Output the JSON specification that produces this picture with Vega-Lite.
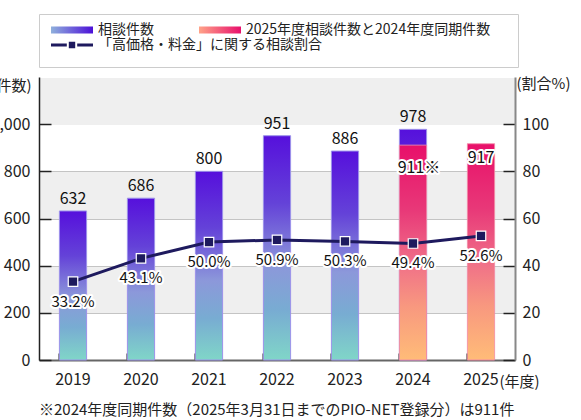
{
  "$schema": "https://vega.github.io/schema/vega-lite/v6.json",
  "width": 476,
  "height": 283,
  "autosize": {"type": "none"},
  "padding": {"left": 39, "top": 77, "right": 66, "bottom": 60},
  "background": "white",
  "config": {
    "font": "Noto Sans CJK JP",
    "view": {"stroke": null},
    "axis": {"labelFontSize": 16, "labelColor": "#222", "titleFontWeight": "normal", "titleFontSize": 14, "titleColor": "#222", "labelOverlap": false},
    "legend": {"symbolSize": 64, "symbolOffset": 17, "labelOffset": 19, "labelFontSize": 14, "labelColor": "#222", "labelLimit": 400, "padding": 9},
    "text": {"font": "Noto Sans CJK JP"}
  },
  "title": {
    "text": "※2024年度同期件数（2025年3月31日までのPIO-NET登録分）は911件",
    "orient": "bottom",
    "anchor": "start",
    "frame": "group",
    "fontSize": 15,
    "fontWeight": "normal",
    "color": "#222",
    "offset": 14
  },
  "datasets": {
    "counts": [
      {"year": "2019", "series": "相談件数", "count": 632, "label": "632"},
      {"year": "2020", "series": "相談件数", "count": 686, "label": "686"},
      {"year": "2021", "series": "相談件数", "count": 800, "label": "800"},
      {"year": "2022", "series": "相談件数", "count": 951, "label": "951"},
      {"year": "2023", "series": "相談件数", "count": 886, "label": "886"},
      {"year": "2024", "series": "相談件数", "count": 978, "label": "978"},
      {"year": "2024", "series": "2025年度相談件数と2024年度同期件数", "count": 911, "label": "911※"},
      {"year": "2025", "series": "2025年度相談件数と2024年度同期件数", "count": 917, "label": "917"}
    ],
    "ratio": [
      {"year": "2019", "series": "「高価格・料金」に関する相談割合", "pct": 33.2, "label": "33.2%"},
      {"year": "2020", "series": "「高価格・料金」に関する相談割合", "pct": 43.1, "label": "43.1%"},
      {"year": "2021", "series": "「高価格・料金」に関する相談割合", "pct": 50.0, "label": "50.0%"},
      {"year": "2022", "series": "「高価格・料金」に関する相談割合", "pct": 50.9, "label": "50.9%"},
      {"year": "2023", "series": "「高価格・料金」に関する相談割合", "pct": 50.3, "label": "50.3%"},
      {"year": "2024", "series": "「高価格・料金」に関する相談割合", "pct": 49.4, "label": "49.4%"},
      {"year": "2025", "series": "「高価格・料金」に関する相談割合", "pct": 52.6, "label": "52.6%"}
    ]
  },
  "layer": [
    {
      "data": {"name": "counts"},
      "layer": [
        {
          "transform": [{"filter": "datum.series === '相談件数'"}],
          "mark": {
            "type": "bar",
            "strokeWidth": 1,
            "fill": {"gradient": "linear", "x1": 0, "y1": 1, "x2": 0, "y2": 0,
              "stops": [
                {"offset": 0, "color": "#80d6c8"},
                {"offset": 0.22, "color": "#78acd2"},
                {"offset": 0.42, "color": "#8c98da"},
                {"offset": 0.7, "color": "#6442d8"},
                {"offset": 1, "color": "#5610dc"}
              ]}
          },
          "encoding": {
            "x": {
              "field": "year", "type": "ordinal",
              "scale": {"paddingInner": 0.6, "paddingOuter": 0.3},
              "axis": {
                "title": "(年度)", "labelAngle": 0, "bandPosition": 0,
                "tickSize": -7, "tickWidth": 2, "tickColor": "#222",
                "domainColor": "#666", "domainWidth": 2, "labelPadding": 18,
                "titleX": 460, "titleY": 21, "titleAlign": "left", "titleBaseline": "middle",
                "titleFontSize": 15, "labelFontSize": 16
              }
            },
            "y": {
              "field": "count", "type": "quantitative",
              "scale": {"domain": [0, 1200], "nice": false},
              "axis": {
                "values": [300, 700, 1100, 0, 200, 400, 600, 800, 1000],
                "tickCount": 100,
                "labelExpr": "(datum.value == 300 || datum.value == 700 || datum.value == 1100) ? '' : format(datum.value, ',')",
                "grid": true,
                "gridColor": {"condition": {"test": "datum.value == 300 || datum.value == 700 || datum.value == 1100", "value": "#efefef"}, "value": "#c4c4c4"},
                "gridWidth": {"condition": {"test": "datum.value == 300 || datum.value == 700 || datum.value == 1100", "value": 47}, "value": 1},
                "tickOpacity": {"condition": {"test": "datum.value == 300 || datum.value == 700 || datum.value == 1100", "value": 0}, "value": 1},
                "tickSize": -12, "tickColor": "#222", "tickWidth": 1.5,
                "domainColor": "#222", "domainWidth": 1.5,
                "labelPadding": 21,
                "title": "(件数)", "titleAngle": 0, "titleAlign": "right", "titleBaseline": "middle",
                "titleX": -8, "titleY": 8, "titleFontSize": 15, "labelFontSize": 16
              }
            },
            "stroke": {
              "field": "series", "type": "nominal",
              "scale": {"range": ["#9c92ea"]},
              "legend": {
                "title": null,
                "orient": "none",
                "legendX": 0,
                "legendY": -63,
                "strokeColor": "#cccccc",
                "encoding": {
                  "symbols": {
                    "shape": {"value": "M-5.25,-0.875H5.25V0.875H-5.25Z M109,7L109.01,7"},
                    "fill": {"value": {"gradient": "linear", "x1": 0, "y1": 0, "x2": 0.092, "y2": 0, "stops": [{"offset": 0, "color": "#8fb0dc"}, {"offset": 1, "color": "#4c10d8"}]}},
                    "strokeWidth": {"value": 0},
                    "opacity": {"value": 1}
                  }
                }
              }
            }
          }
        },
        {
          "transform": [{"filter": "datum.series !== '相談件数'"}],
          "mark": {
            "type": "bar",
            "strokeWidth": 1,
            "stroke": "#f28aa6",
            "fill": {"gradient": "linear", "x1": 0, "y1": 1, "x2": 0, "y2": 0,
              "stops": [
                {"offset": 0, "color": "#ffbc78"},
                {"offset": 0.25, "color": "#f8987f"},
                {"offset": 0.45, "color": "#f07088"},
                {"offset": 0.7, "color": "#e83878"},
                {"offset": 1, "color": "#e8106a"}
              ]}
          },
          "encoding": {
            "x": {"field": "year", "type": "ordinal"},
            "y": {"field": "count", "type": "quantitative"},
            "strokeDash": {
              "field": "series", "type": "nominal",
              "scale": {"range": [[1, 0]]},
              "legend": {
                "title": null,
                "orient": "none",
                "legendX": 148,
                "legendY": -63,
                "encoding": {
                  "symbols": {
                    "shape": {"value": "M-5.25,-0.875H5.25V0.875H-5.25Z"},
                    "fill": {"value": {"gradient": "linear", "x1": 0, "y1": 0, "x2": 1, "y2": 0, "stops": [{"offset": 0, "color": "#ffa388"}, {"offset": 1, "color": "#e8106c"}]}},
                    "strokeWidth": {"value": 0},
                    "opacity": {"value": 1}
                  }
                }
              }
            }
          }
        },
        {
          "transform": [{"filter": "datum.series === '相談件数'"}],
          "mark": {"type": "text", "baseline": "bottom", "dy": -4, "fontSize": 16, "color": "#111"},
          "encoding": {
            "x": {"field": "year", "type": "ordinal"},
            "y": {"field": "count", "type": "quantitative"},
            "text": {"field": "label"}
          }
        },
        {
          "transform": [{"filter": "datum.series !== '相談件数' && datum.year === '2025'"}],
          "mark": {"type": "text", "baseline": "top", "dy": 6, "fontSize": 16, "color": "white", "stroke": "white", "strokeWidth": 4, "strokeJoin": "round"},
          "encoding": {
            "x": {"field": "year", "type": "ordinal"},
            "y": {"field": "count", "type": "quantitative"},
            "text": {"field": "label"}
          }
        },
        {
          "transform": [{"filter": "datum.series !== '相談件数' && datum.year === '2025'"}],
          "mark": {"type": "text", "baseline": "top", "dy": 6, "fontSize": 16, "color": "#111"},
          "encoding": {
            "x": {"field": "year", "type": "ordinal"},
            "y": {"field": "count", "type": "quantitative"},
            "text": {"field": "label"}
          }
        },
        {
          "transform": [{"filter": "datum.series !== '相談件数' && datum.year === '2024'"}],
          "mark": {"type": "text", "baseline": "top", "dy": 15, "dx": 6, "fontSize": 16, "color": "white", "stroke": "white", "strokeWidth": 4, "strokeJoin": "round"},
          "encoding": {
            "x": {"field": "year", "type": "ordinal"},
            "y": {"field": "count", "type": "quantitative"},
            "text": {"field": "label"}
          }
        },
        {
          "transform": [{"filter": "datum.series !== '相談件数' && datum.year === '2024'"}],
          "mark": {"type": "text", "baseline": "top", "dy": 15, "dx": 6, "fontSize": 16, "color": "#111"},
          "encoding": {
            "x": {"field": "year", "type": "ordinal"},
            "y": {"field": "count", "type": "quantitative"},
            "text": {"field": "label"}
          }
        }
      ]
    },
    {
      "data": {"name": "ratio"},
      "layer": [
        {
          "mark": {"type": "line", "strokeWidth": 3, "color": "#1e1a5e"},
          "encoding": {
            "x": {"field": "year", "type": "ordinal"},
            "y": {
              "field": "pct", "type": "quantitative",
              "scale": {"domain": [0, 120], "nice": false},
              "axis": {
                "orient": "right",
                "values": [0, 20, 40, 60, 80, 100],
                "tickCount": 100,
                "grid": false,
                "tickSize": -12, "tickColor": "#222", "tickWidth": 1.5,
                "domainColor": "#888", "domainWidth": 2,
                "labelPadding": 19,
                "title": "(割合%)", "titleAngle": 0, "titleAlign": "left", "titleBaseline": "middle",
                "titleX": 1, "titleY": 6, "titleFontSize": 15, "labelFontSize": 16
              }
            }
          }
        },
        {
          "mark": {"type": "point", "shape": "square", "size": 90, "filled": true, "stroke": "white", "strokeWidth": 1.2, "opacity": 1},
          "encoding": {
            "x": {"field": "year", "type": "ordinal"},
            "y": {"field": "pct", "type": "quantitative"},
            "fill": {
              "field": "series", "type": "nominal",
              "scale": {"range": ["#1e1a5e"]},
              "legend": {
                "title": null,
                "orient": "none",
                "legendX": 0,
                "legendY": -48,
                "encoding": {
                  "symbols": {
                    "shape": {"value": "M-5.25,-0.4H-1.3V0.4H-5.25Z M-0.8,-0.8H0.8V0.8H-0.8Z M1.3,-0.4H5.25V0.4H1.3Z"},
                    "fill": {"value": "#1e1a5e"},
                    "strokeWidth": {"value": 0},
                    "opacity": {"value": 1}
                  }
                }
              }
            }
          }
        },
        {
          "mark": {"type": "text", "baseline": "top", "dy": 13, "fontSize": 15, "color": "white", "stroke": "white", "strokeWidth": 4, "strokeJoin": "round"},
          "encoding": {
            "x": {"field": "year", "type": "ordinal"},
            "y": {"field": "pct", "type": "quantitative"},
            "text": {"field": "label"}
          }
        },
        {
          "mark": {"type": "text", "baseline": "top", "dy": 13, "fontSize": 15, "color": "#111"},
          "encoding": {
            "x": {"field": "year", "type": "ordinal"},
            "y": {"field": "pct", "type": "quantitative"},
            "text": {"field": "label"}
          }
        }
      ]
    }
  ],
  "resolve": {"scale": {"y": "independent"}}
}
